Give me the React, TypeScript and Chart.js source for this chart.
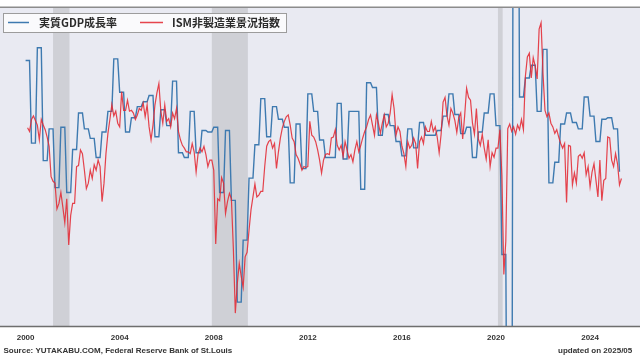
import React, { useEffect, useRef } from 'react';
import { Chart, registerables } from 'chart.js';

Chart.register(...registerables);

// ---------- data ----------
const START_YEAR = 2000;
const tickYears = [2000, 2004, 2008, 2012, 2016, 2020, 2024];

// ISM services index, monthly, Jan 2000 .. Apr 2025
const ismServices = [
  57.7, 57.3, 58.6, 59.0, 58.5, 58.0, 56.4, 58.6, 58.0, 57.5, 56.7, 55.7,
  52.4, 51.9, 51.7, 48.9, 49.5, 50.7, 49.1, 47.4, 50.0, 45.0, 48.2, 49.5,
  49.5, 53.5, 53.6, 55.3, 54.9, 53.1, 51.1, 51.7, 53.1, 52.2, 53.7, 53.1,
  54.2, 53.5, 49.7, 51.7, 54.9, 57.1, 58.6, 60.2, 59.0, 59.5, 58.2, 57.8,
  61.6, 59.6, 59.6, 60.7, 59.5, 59.6, 59.3, 58.6, 59.1, 59.8, 59.6, 60.4,
  58.9, 60.2, 57.8, 56.4, 58.0, 60.2, 61.5, 62.5, 59.5, 58.2, 60.2, 58.4,
  58.7, 57.8, 59.3, 58.7, 59.8, 57.3, 56.4, 55.8, 55.5, 55.1, 55.1, 54.9,
  56.0, 55.1, 52.9, 54.9, 55.5, 55.1, 55.7, 54.8, 53.5, 54.2, 54.2, 53.1,
  45.1, 50.0, 49.8, 52.3, 51.7, 48.4, 49.7, 50.6, 50.0, 44.6, 37.6, 40.8,
  43.0, 41.6, 40.4, 43.7, 44.2, 46.6, 48.8, 50.2, 51.6, 50.2, 50.4, 50.8,
  50.8, 53.5, 55.7, 56.2, 56.4, 55.5, 56.0, 53.3, 55.1, 56.6, 57.7, 58.4,
  58.9, 59.1, 58.0, 56.6, 56.2, 54.8, 54.4, 53.8, 53.1, 53.5, 53.4, 53.5,
  58.4, 56.9, 56.7, 56.2, 55.3, 54.2, 52.8, 54.2, 54.8, 54.9, 54.8, 56.6,
  56.7, 57.5, 55.8, 55.3, 55.8, 54.6, 56.2, 55.3, 54.4, 54.8, 54.0, 55.3,
  56.2, 55.1, 55.8, 56.6, 57.3, 57.8, 58.6, 59.1, 58.0, 56.9, 59.1, 58.2,
  57.1, 58.2, 59.1, 57.8, 58.2, 59.3, 61.3, 59.8, 56.9, 57.8, 57.3, 55.7,
  54.9, 53.5, 56.2, 55.5, 55.8, 56.6, 56.0, 53.3, 56.2, 56.7, 56.0, 57.8,
  57.3, 57.3, 58.4, 57.3, 57.8, 56.7, 55.0, 57.0, 60.5, 61.0, 59.0, 58.0,
  59.8, 59.3, 58.5, 57.2, 58.8, 59.3, 56.5, 59.0, 62.0, 61.0, 60.7, 58.2,
  57.0, 59.8, 56.5, 55.8, 57.0, 55.5, 54.3, 56.4, 53.5, 55.0, 54.5, 55.5,
  55.5, 57.5, 52.5, 41.8, 45.4, 57.6, 58.1, 57.3, 57.8, 57.0, 58.0, 57.5,
  58.6, 57.5, 63.3, 65.4, 65.8, 63.1, 65.3, 64.4, 63.0, 68.4, 69.1, 63.5,
  59.6, 58.9, 59.3, 58.2, 57.8, 57.1, 57.5, 56.7, 56.0, 55.5, 56.0, 49.6,
  55.8, 55.7, 51.5, 52.8, 51.7, 54.6, 54.8, 54.4, 55.0, 52.6, 53.5, 51.3,
  52.9, 53.8, 52.0, 50.2, 54.2, 49.8, 52.0, 52.2, 56.7, 56.6, 54.2, 53.5,
  54.9, 53.8, 51.5, 52.2,
];

// Real GDP growth (annualized q/q, %), 1999Q4 .. 2025Q1; each value is shown during the following quarter
const gdpQuarterly = [
  6.7,
  1.5, 7.5, 0.4, 2.4,
  -1.3, 2.5, -1.6, 1.1,
  3.4, 2.4, 1.8, 0.6,
  2.2, 3.5, 6.8, 4.7,
  2.2, 3.1, 3.8, 4.1,
  4.5, 1.9, 3.6, 2.6,
  5.4, 0.9, 0.6, 3.5,
  0.9, 2.3, 2.2, 2.5,
  -1.6, 2.3, -2.1, -8.5,
  -4.6, -0.7, 1.4, 4.3,
  1.9, 3.8, 3.0, 2.5,
  -1.0, 2.7, -0.1, 4.6,
  3.5, 1.7, 0.6, 0.6,
  4.0, 0.5, 3.5, 3.5,
  -1.4, 5.3, 5.0, 2.0,
  3.3, 2.6, 1.6, 0.7,
  2.4, 1.2, 2.8, 2.0,
  2.0, 2.3, 3.2, 4.6,
  3.3, 2.1, 2.5, 0.6,
  2.2, 3.4, 4.6, 2.6,
  -5.5, -28.0, 34.8, 4.4,
  5.6, 6.4, 3.5, 7.4,
  -1.0, 0.3, 2.7, 3.4,
  2.8, 2.4, 4.4, 3.2,
  1.6, 3.0, 3.1, 2.4,
  -0.3,
];

// Recessions: [startYear, startMonth, endYear, endMonth]
const recessions = [
  [2001, 3, 2001, 11],
  [2007, 12, 2009, 6],
  [2020, 2, 2020, 4],
];

const legendLabels = ['実質GDP成長率', 'ISM非製造業景況指数'];
const sourceText = 'Source: YUTAKABU.COM, Federal Reserve Bank of St.Louis';
const updatedText = 'updated on 2025/05';

// ---------- styling ----------
const W = 700;
const H = 360;
const PX_PER_MONTH = 1.96;
const X_MIN = -25.6 / PX_PER_MONTH;
const X_MAX = X_MIN + W / PX_PER_MONTH;
const BLUE = 'rgb(62,122,176)';
const RED = 'rgba(226,42,52,0.88)';
const PLOT_BG = '#e9eaf2';
const SHADE = '#cfd0d6';

const monthIndex = (y: number, m: number) => (y - START_YEAR) * 12 + (m - 1);

const decorPlugin = {
  id: 'decor',
  beforeDraw(chart: any) {
    const { ctx, chartArea: a } = chart;
    ctx.save();
    ctx.fillStyle = '#ffffff';
    ctx.fillRect(0, 0, chart.width, chart.height);
    ctx.fillStyle = PLOT_BG;
    ctx.fillRect(a.left, a.top, a.right - a.left, a.bottom - a.top);
    ctx.restore();
  },
  beforeDatasetsDraw(chart: any) {
    const { ctx, chartArea: a, scales } = chart;
    const xs = scales.x;
    ctx.save();
    ctx.fillStyle = SHADE;
    recessions.forEach(([sy, sm, ey, em]) => {
      const x0 = xs.getPixelForValue(monthIndex(sy, sm));
      const x1 = xs.getPixelForValue(monthIndex(ey, em) + 0.4);
      ctx.fillRect(x0, a.top, x1 - x0, a.bottom - a.top);
    });
    ctx.restore();
  },
  afterDraw(chart: any) {
    const { ctx, chartArea: a } = chart;
    ctx.save();
    // top frame line
    ctx.strokeStyle = '#8c8c8c';
    ctx.lineWidth = 1.5;
    ctx.beginPath();
    ctx.moveTo(0, a.top - 0.75);
    ctx.lineTo(chart.width, a.top - 0.75);
    ctx.stroke();
    // bottom axis line
    ctx.strokeStyle = '#6e6e6e';
    ctx.beginPath();
    ctx.moveTo(0, a.bottom + 0.5);
    ctx.lineTo(chart.width, a.bottom + 0.5);
    ctx.stroke();

    // legend box
    ctx.fillStyle = 'rgba(250,250,252,0.97)';
    ctx.fillRect(3.5, 13.5, 283, 19);
    ctx.strokeStyle = '#9c9c9c';
    ctx.lineWidth = 1;
    ctx.strokeRect(3.5, 13.5, 283, 19);
    ctx.lineWidth = 1.5;
    ctx.strokeStyle = BLUE;
    ctx.beginPath();
    ctx.moveTo(8, 22.5);
    ctx.lineTo(29, 22.5);
    ctx.stroke();
    ctx.strokeStyle = RED;
    ctx.beginPath();
    ctx.moveTo(140, 22.5);
    ctx.lineTo(163, 22.5);
    ctx.stroke();
    ctx.fillStyle = '#2b2b2b';
    ctx.font = 'bold 11px "Noto Sans CJK JP", sans-serif';
    ctx.textBaseline = 'middle';
    ctx.textAlign = 'left';
    ctx.fillText(legendLabels[0], 39, 23);
    ctx.fillText(legendLabels[1], 172, 23);

    // footer
    ctx.font = 'bold 8px "Liberation Sans", Arial, sans-serif';
    ctx.fillStyle = '#333333';
    ctx.textBaseline = 'alphabetic';
    ctx.fillText(sourceText, 3.5, 353);
    ctx.fillText(updatedText, 558, 353);
    ctx.restore();
  },
};

export default function App() {
  const ref = useRef<HTMLCanvasElement | null>(null);

  useEffect(() => {
    if (!ref.current) return;
    const ismPoints = ismServices.map((v, i) => ({ x: i + 1, y: v }));
    const gdpPoints = ismServices.map((_, i) => ({ x: i, y: gdpQuarterly[Math.floor(i / 3)] }));

    const chart = new Chart(ref.current, {
      type: 'line',
      data: {
        datasets: [
          {
            label: legendLabels[1],
            data: ismPoints,
            yAxisID: 'yI',
            borderColor: RED,
            borderWidth: 1.2,
            pointRadius: 0,
            tension: 0,
            order: 0,
          },
          {
            label: legendLabels[0],
            data: gdpPoints,
            yAxisID: 'yG',
            borderColor: BLUE,
            borderWidth: 1.4,
            pointRadius: 0,
            tension: 0,
            order: 1,
          },
        ],
      },
      options: {
        animation: false,
        responsive: false,
        devicePixelRatio: 1,
        layout: { padding: { top: 8, left: 0, right: 0, bottom: 0 } },
        plugins: { legend: { display: false }, tooltip: { enabled: false } },
        scales: {
          x: {
            type: 'linear',
            min: X_MIN,
            max: X_MAX,
            grid: { display: false, drawTicks: false },
            border: { display: false },
            afterBuildTicks: (scale: any) => {
              scale.ticks = tickYears.map((y) => ({ value: (y - START_YEAR) * 12 }));
            },
            afterFit: (scale: any) => {
              scale.height = H - 326;
            },
            ticks: {
              autoSkip: false,
              maxRotation: 0,
              padding: 7,
              color: '#333333',
              font: { family: '"Liberation Sans", Arial, sans-serif', size: 8, weight: 'bold' },
              callback: (v: any) => String(START_YEAR + Math.round(Number(v) / 12)),
            },
          },
          yG: { type: 'linear', display: false, min: -10, max: 10 },
          yI: { type: 'linear', display: false, min: 36.2, max: 70.7 },
        },
      } as any,
      plugins: [decorPlugin],
    });
    return () => chart.destroy();
  }, []);

  return (
    <div style={{ position: 'fixed', left: 0, top: 0, width: W, height: H, background: '#fff' }}>
      <canvas ref={ref} width={W} height={H} style={{ display: 'block', width: W, height: H }} />
    </div>
  );
}
